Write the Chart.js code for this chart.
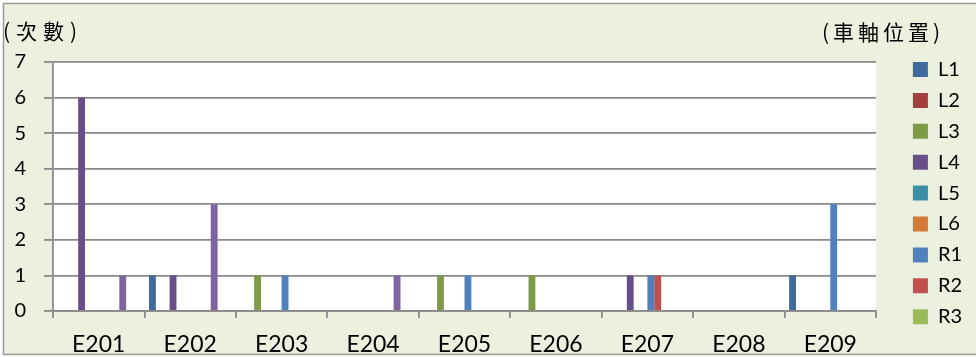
<!DOCTYPE html>
<html>
<head>
<meta charset="utf-8">
<script src="https://cdn.jsdelivr.net/npm/chart.js@4/dist/chart.umd.min.js"></script>
<style>
  html, body { margin: 0; padding: 0; background: #ffffff; }
  #wrap { width: 976px; height: 357px; }
</style>
</head>
<body>
<div id="wrap"><canvas id="axleChart" width="976" height="357"></canvas></div>
<script>
// categories
const stations = ["E201", "E202", "E203", "E204", "E205", "E206", "E207", "E208", "E209"];

// counts per axle position
const L1 = [0, 1, 0, 0, 0, 0, 0, 0, 1];
const L2 = [0, 0, 0, 0, 0, 0, 0, 0, 0];
const L3 = [0, 0, 1, 0, 1, 1, 0, 0, 0];
const L4 = [6, 1, 0, 0, 0, 0, 1, 0, 0];
const L5 = [0, 0, 0, 0, 0, 0, 0, 0, 0];
const L6 = [0, 0, 0, 0, 0, 0, 0, 0, 0];
const R1 = [0, 0, 1, 0, 1, 0, 1, 0, 3];
const R2 = [0, 0, 0, 0, 0, 0, 1, 0, 0];
const R3 = [0, 0, 0, 0, 0, 0, 0, 0, 0];
const R4 = [1, 3, 0, 1, 0, 0, 0, 0, 0];
const R5 = [0, 0, 0, 0, 0, 0, 0, 0, 0];
const R6 = [0, 0, 0, 0, 0, 0, 0, 0, 0];

const seriesNames = ["L1", "L2", "L3", "L4", "L5", "L6", "R1", "R2", "R3", "R4", "R5", "R6"];
const seriesData = [L1, L2, L3, L4, L5, L6, R1, R2, R3, R4, R5, R6];
const seriesColors = ["#3e6a9e", "#a33f3d", "#7e9b48", "#67508a", "#3a8fa6", "#d27a36",
                      "#4f81bd", "#c0504d", "#9bbb59", "#8064a2", "#4bacc6", "#f79646"];

const yTicks = [0, 1, 2, 3, 4, 5, 6, 7];

const gridGray = "#8a8a8a";

// background, white plot area, outer frame and the two captions
const backdrop = {
	id: "backdrop",
	beforeDraw(chart) {
		const ctx = chart.ctx;
		const a = chart.chartArea;
		ctx.save();
		ctx.fillStyle = "#ffffff";
		ctx.fillRect(0, 0, chart.width, chart.height);
		ctx.fillStyle = "#ebf1de";
		ctx.fillRect(3, 3, chart.width, chart.height - 5);
		ctx.strokeStyle = "#9a9a9a";
		ctx.lineWidth = 1.5;
		ctx.strokeRect(3.5, 3.5, chart.width + 10, chart.height - 6);
		ctx.fillStyle = "#ffffff";
		ctx.fillRect(a.left, a.top, a.right - a.left, a.bottom - a.top);
		ctx.restore();
	},
	afterDraw(chart) {
		const ctx = chart.ctx;
		ctx.save();
		ctx.fillStyle = "#000000";
		ctx.font = '21px "Noto Sans CJK TC"';
		ctx.textBaseline = "alphabetic";
		ctx.textAlign = "left";
		ctx.letterSpacing = "6px";
		ctx.fillText("(次數)", 3, 39);
		ctx.letterSpacing = "4px";
		ctx.fillText("(車軸位置)", 822, 40);
		ctx.restore();
	},
};

const ctxAxle = document.getElementById("axleChart").getContext("2d");

const axleChart = new Chart(ctxAxle, {
	type: "bar",
	data: {
		labels: stations,
		datasets: seriesNames.map((name, i) => ({
			label: name,
			data: seriesData[i],
			backgroundColor: seriesColors[i],
			borderWidth: 0,
			categoryPercentage: 0.9,
			barPercentage: 1.0,
		})),
	},
	options: {
		responsive: false,
		animation: false,
		layout: {
			padding: { top: 48.6, left: 3, right: 8, bottom: 0 },
		},
		plugins: {
			tooltip: { enabled: false },
			legend: {
				position: "right",
				align: "start",
				maxWidth: 66,
				labels: {
					boxWidth: 15,
					boxHeight: 15,
					padding: 10.9,
					color: "#000000",
					font: { family: "Lato", size: 20 },
					filter: (item) => item.datasetIndex < 9,
				},
			},
		},
		scales: {
			x: {
				grid: {
					display: true,
					drawOnChartArea: false,
					drawTicks: true,
					tickLength: 7,
					offset: true,
					color: gridGray,
					lineWidth: 1.8,
				},
				border: { display: true, color: gridGray, width: 1.8 },
				ticks: {
					color: "#000000",
					font: { family: "Lato", size: 23 },
					padding: 13,
					maxRotation: 0,
				},
				afterFit: (scale) => { scale.height = 46; },
			},
			y: {
				min: 0,
				max: 7,
				afterBuildTicks: (scale) => { scale.ticks = yTicks.map((v) => ({ value: v })); },
				grid: {
					color: gridGray,
					lineWidth: 1.8,
					tickLength: 9,
				},
				border: { display: true, color: gridGray, width: 1.8 },
				ticks: {
					color: "#000000",
					font: { family: "Lato", size: 20 },
					padding: 18,
				},
				afterFit: (scale) => { scale.width = 50; },
			},
			// empty strips that keep the plot clear of the caption row and the legend
			topGap: {
				type: "linear",
				axis: "x",
				position: "top",
				display: true,
				grid: { display: false },
				border: { display: false },
				ticks: { display: false },
				afterFit: (scale) => { scale.height = 13.4; },
			},
			gap: {
				type: "linear",
				axis: "y",
				position: "right",
				display: true,
				grid: { display: false },
				border: { display: false },
				ticks: { display: false },
				afterFit: (scale) => { scale.width = 26; },
			},
		},
	},
	plugins: [backdrop],
});
</script>
</body>
</html>
